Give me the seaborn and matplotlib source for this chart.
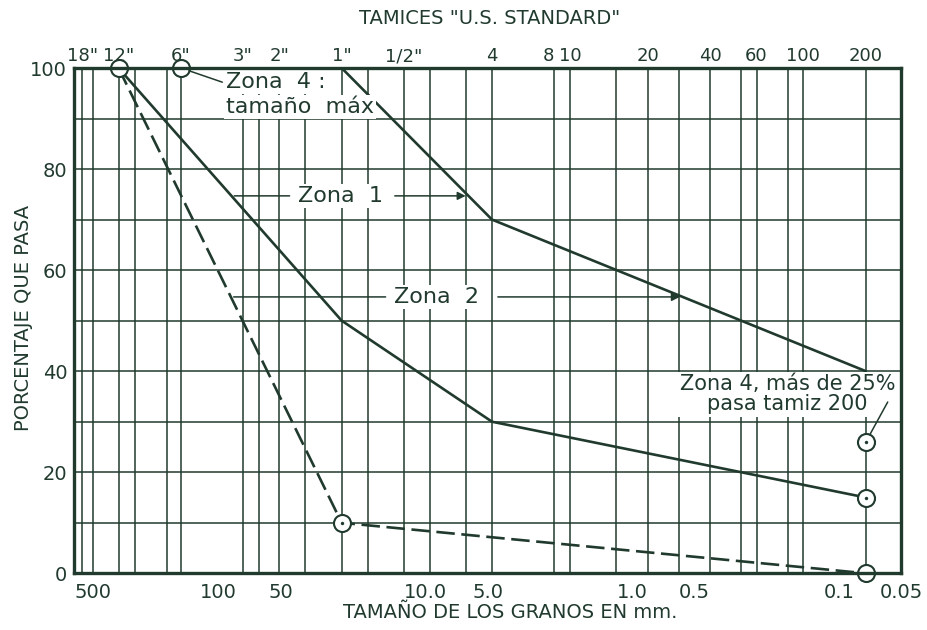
import numpy as np
import pandas as pd
import matplotlib
matplotlib.use("Agg")
import matplotlib.pyplot as plt
import seaborn as sns

# ---- data ----
sieve_labels = ['18"', '12"', '6"', '3"', '2"', '1"', '1/2"', '4', '8', '10', '20', '40', '60', '100', '200']
sieve_mm = [457, 305, 152, 76.2, 50.8, 25.4, 12.7, 4.76, 2.38, 2.0, 0.84, 0.42, 0.25, 0.149, 0.074]

mm_ticks = [500, 100, 50, 10, 5, 1, 0.5, 0.1, 0.05]
mm_labels = ['500', '100', '50', '10.0', '5.0', '1.0', '0.5', '0.1', '0.05']

grid_mm = [457, 406, 305, 254, 178, 152, 76.2, 63.5, 50.8, 38.1, 25.4, 19.05, 12.7, 9.52, 6.35,
           4.76, 2.38, 2.0, 1.19, 0.84, 0.59, 0.42, 0.297, 0.25, 0.177, 0.149, 0.074]

zona1_mm = [25.4, 4.76, 0.074]
zona1_pct = [100, 70, 40]
zona2_mm = [305, 25.4, 4.76, 0.074]
zona2_pct = [100, 50, 30, 15]
dash_mm = [305, 25.4, 0.074]
dash_pct = [100, 10, 0]

circle_mm = [305, 152, 25.4, 0.074, 0.074, 0.074]
circle_pct = [100, 100, 10, 26, 15, 0]
dot_mm = [25.4, 0.074, 0.074]
dot_pct = [10, 26, 15]

ink = '#213a2e'

sns.set_theme(style='white')
plt.rcParams['font.family'] = ['DejaVu Sans']
plt.rcParams['text.color'] = ink
plt.rcParams['axes.edgecolor'] = ink
plt.rcParams['xtick.color'] = ink
plt.rcParams['ytick.color'] = ink

fig = plt.figure(figsize=(9.27, 6.3), dpi=100)
ax = fig.add_axes([0.080, 0.090, 0.892, 0.802])

ax.set_xscale('log')
ax.set_xlim(500, 0.05)
ax.set_ylim(0, 100)

# grid of the log paper
for v in grid_mm:
    ax.axvline(v, color=ink, lw=1.1, zorder=1)
for h in range(10, 100, 10):
    ax.axhline(h, color=ink, lw=1.1, zorder=1)

df = pd.concat([
    pd.DataFrame({'mm': zona1_mm, 'pct': zona1_pct, 'zona': 'Zona 1'}),
    pd.DataFrame({'mm': zona2_mm, 'pct': zona2_pct, 'zona': 'Zona 2'}),
    pd.DataFrame({'mm': dash_mm, 'pct': dash_pct, 'zona': 'limite'}),
])
sns.lineplot(data=df, x='mm', y='pct', hue='zona', style='zona',
             palette=[ink] * 3, dashes={'Zona 1': '', 'Zona 2': '', 'limite': (7, 2.5)},
             sort=False, estimator=None, legend=False, lw=1.9, ax=ax, zorder=3)

sns.scatterplot(x=circle_mm, y=circle_pct, marker='o', s=150, facecolor='white',
                edgecolor=ink, linewidth=1.5, ax=ax, zorder=5, clip_on=False)
sns.scatterplot(x=dot_mm, y=dot_pct, marker='o', s=6, color=ink, linewidth=0, ax=ax, zorder=6)


def x_on(xs, ys, pct):
    # position along a curve (log x) at a given percentage
    return 10 ** np.interp(pct, ys[::-1], np.log10(xs)[::-1])


box = dict(boxstyle='square,pad=0.1', fc='white', ec='none')
lead = dict(arrowstyle='-', color=ink, lw=1.1)
arrow = dict(arrowstyle='-|>', color=ink, lw=1.1, mutation_scale=12)

# Zona 1 label between the two solid curves
y1 = 74.7
ax.text(25.8, y1, 'Zona  1', ha='center', va='center', fontsize=16, bbox=box, zorder=7)
ax.annotate('', xy=(x_on(zona2_mm, zona2_pct, y1), y1), xytext=(44, y1), arrowprops=lead, zorder=7)
ax.annotate('', xy=(x_on(zona1_mm, zona1_pct, y1), y1), xytext=(14.5, y1), arrowprops=arrow, zorder=7)

# Zona 2 label between dashed curve and upper curve
y2 = 54.7
ax.text(8.8, y2, 'Zona  2', ha='center', va='center', fontsize=16, bbox=box, zorder=7)
ax.annotate('', xy=(x_on(dash_mm, dash_pct, y2), y2), xytext=(15.1, y2), arrowprops=lead, zorder=7)
ax.annotate('', xy=(x_on(zona1_mm, zona1_pct, y2), y2), xytext=(4.6, y2), arrowprops=arrow, zorder=7)

# Zona 4 notes
ax.text(92, 97.2, 'Zona  4 :', ha='left', va='center', fontsize=16, bbox=box, zorder=7)
ax.text(92, 92.3, 'tamaño  máx', ha='left', va='center', fontsize=16, bbox=box, zorder=7)
ax.annotate('', xy=(152, 100), xytext=(96, 97.2), arrowprops=dict(lead, shrinkA=0, shrinkB=6), zorder=7)

ax.text(0.177, 35.4, 'Zona 4, más de 25%\npasa tamiz 200', ha='center', va='center',
        fontsize=15, linespacing=1.0, bbox=box, zorder=7)
ax.annotate('', xy=(0.074, 26), xytext=(0.058, 33.9), arrowprops=dict(lead, shrinkA=0, shrinkB=6), zorder=7)

# axes, ticks and labels
for s in ax.spines.values():
    s.set_linewidth(2.4)
    s.set_zorder(8)
ax.set_xticks(mm_ticks)
ax.set_xticklabels(mm_labels)
ax.minorticks_off()
ax.set_yticks(range(0, 101, 20))
ax.set_yticklabels([str(v) for v in range(0, 101, 20)])
ax.tick_params(axis='y', length=0, labelsize=14, pad=5)
ax.tick_params(axis='x', length=0, labelsize=14, pad=7)
ax.get_xticklabels()[0].set_horizontalalignment('left')
ax.set_xlabel('')
ax.set_ylabel('')

top = ax.twiny()
top.set_xscale('log')
top.set_xlim(ax.get_xlim())
top.set_xticks(sieve_mm)
top.set_xticklabels(sieve_labels)
top.minorticks_off()
top.tick_params(length=0, labelsize=13, pad=2)
top_labels = top.get_xticklabels()
top_labels[sieve_labels.index('8')].set_horizontalalignment('right')
for s in top.spines.values():
    s.set_visible(False)

fig.text(490 / 927, 1 - 18 / 630, 'TAMICES "U.S. STANDARD"', ha='center', va='center', fontsize=14)
fig.text(510 / 927, 1 - 612 / 630, 'TAMAÑO DE LOS GRANOS EN mm.', ha='center', va='center', fontsize=14)
fig.text(24 / 927, 1 - 318 / 630, 'PORCENTAJE QUE PASA', ha='center', va='center', rotation=90, fontsize=14)

fig.savefig('out.png', dpi=100, facecolor='white')
